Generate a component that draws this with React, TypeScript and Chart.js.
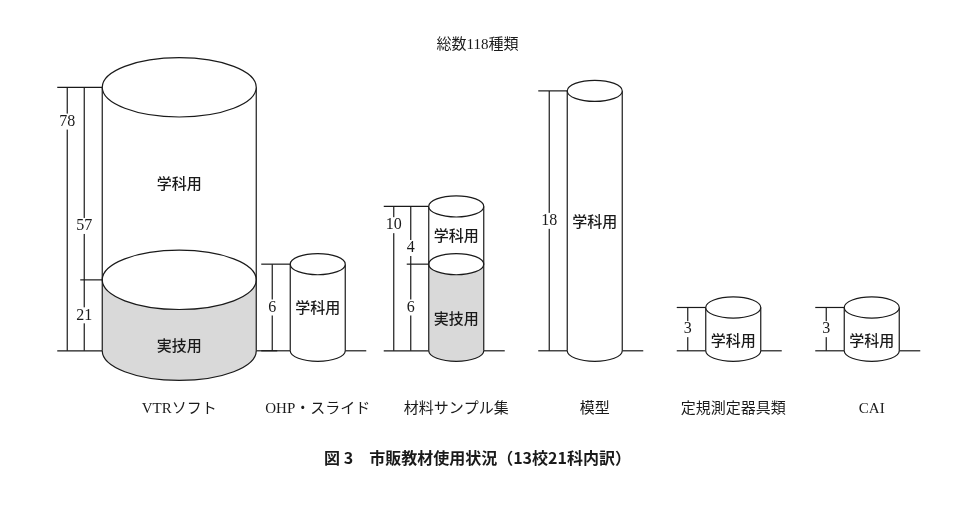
import { useEffect, useRef } from 'react';
import { Chart, registerables } from 'chart.js';

Chart.register(...registerables);

// ---- data ----
const categories = ['VTRソフト', 'OHP・スライド', '材料サンプル集', '模型', '定規測定器具類', 'CAI'];
const practicalCounts = [21, 0, 6, 0, 0, 0]; // 実技用
const academicCounts = [57, 6, 4, 18, 3, 3]; // 学科用
const seriesNames = ['実技用', '学科用'];
// the large item is drawn on its own (compressed) axis, as in the original figure
const compressedScaleCategories = ['VTRソフト'];
const topNote = '総数118種類';
const caption = '図 3　市販教材使用状況（13校21科内訳）';

// ---- styles ----
const INK = '#1a1a1a';
const SHADE = '#d9d9d9';
const SERIF = "'Liberation Serif', 'DejaVu Serif', 'Noto Sans CJK JP', serif";
const SANS_JP = "'Noto Sans CJK JP', 'Noto Sans', sans-serif";
const LARGE_WIDTH = 154;
const REGULAR_WIDTH = 55;
const MAIN_MAX = 20;
const COMPRESSED_MAX = 85.5;

const isLarge = (i: number) => compressedScaleCategories.includes(categories[i]);
const onLarge = (arr: number[]) => arr.map((v, i) => (isLarge(i) ? v : null));
const onMain = (arr: number[]) => arr.map((v, i) => (isLarge(i) ? null : v));

function line(ctx: CanvasRenderingContext2D, x1: number, y1: number, x2: number, y2: number) {
  ctx.beginPath();
  ctx.moveTo(x1, y1);
  ctx.lineTo(x2, y2);
  ctx.stroke();
}

function dimLabel(ctx: CanvasRenderingContext2D, text: string, x: number, y: number) {
  ctx.font = `16px ${SERIF}`;
  const w = ctx.measureText(text).width;
  ctx.fillStyle = '#fff';
  ctx.fillRect(x - w / 2 - 1, y - 8, w + 2, 16);
  ctx.fillStyle = INK;
  ctx.textAlign = 'center';
  ctx.textBaseline = 'middle';
  ctx.fillText(text, x, y);
}

function partLabel(ctx: CanvasRenderingContext2D, text: string, x: number, y: number) {
  ctx.font = `500 15px ${SANS_JP}`;
  ctx.fillStyle = INK;
  ctx.textAlign = 'center';
  ctx.textBaseline = 'middle';
  ctx.fillText(text, x, y);
}

const cylinderPlugin = {
  id: 'cylinders',
  afterDraw(chart: any) {
    const ctx: CanvasRenderingContext2D = chart.ctx;
    ctx.save();
    ctx.lineWidth = 1.2;
    ctx.strokeStyle = INK;
    categories.forEach((_, i) => {
      const large = isLarge(i);
      const pEl = chart.getDatasetMeta(large ? 0 : 2).data[i];
      const aEl = chart.getDatasetMeta(large ? 1 : 3).data[i];
      if (!pEl || !aEl) return;
      const cx = aEl.x;
      const rx = aEl.width / 2;
      const ry = rx * 0.385;
      const yb = pEl.base;
      const yMid = pEl.y;
      const yt = aEl.y;
      const left = cx - rx;
      const right = cx + rx;
      const hasP = practicalCounts[i] > 0;
      const total = practicalCounts[i] + academicCounts[i];

      // shaded lower part
      if (hasP) {
        ctx.beginPath();
        ctx.moveTo(left, yMid);
        ctx.lineTo(left, yb);
        ctx.ellipse(cx, yb, rx, ry, 0, Math.PI, 0, true);
        ctx.lineTo(right, yMid);
        ctx.ellipse(cx, yMid, rx, ry, 0, 0, Math.PI, false);
        ctx.closePath();
        ctx.fillStyle = SHADE;
        ctx.fill();
      }
      // sides
      line(ctx, left, yt, left, yb);
      line(ctx, right, yt, right, yb);
      // bottom front arc
      ctx.beginPath();
      ctx.ellipse(cx, yb, rx, ry, 0, 0, Math.PI, false);
      ctx.stroke();
      // middle ellipse
      if (hasP && academicCounts[i] > 0) {
        ctx.beginPath();
        ctx.ellipse(cx, yMid, rx, ry, 0, 0, Math.PI * 2);
        ctx.stroke();
      }
      // top ellipse
      ctx.beginPath();
      ctx.ellipse(cx, yt, rx, ry, 0, 0, Math.PI * 2);
      ctx.fillStyle = '#fff';
      ctx.fill();
      ctx.stroke();

      // base line right of cylinder
      line(ctx, right, yb, right + 21, yb);

      // dimension lines
      if (hasP) {
        const outerX = left - 35;
        const innerX = left - 18;
        const tickStart = left - 45;
        line(ctx, tickStart, yt, left, yt);
        line(ctx, innerX - 4, yMid, left, yMid);
        line(ctx, tickStart, yb, left, yb);
        line(ctx, outerX, yt, outerX, yb);
        line(ctx, innerX, yt, innerX, yb);
        dimLabel(ctx, String(total), outerX, yt + 0.13 * (yb - yt));
        dimLabel(ctx, String(academicCounts[i]), innerX, yt + 0.72 * (yMid - yt));
        dimLabel(ctx, String(practicalCounts[i]), innerX, (yMid + yb) / 2);
        partLabel(ctx, seriesNames[1], cx, (yt + yMid) / 2);
        partLabel(ctx, seriesNames[0], cx, (yMid + yb) / 2 + ry);
      } else {
        const lineX = left - 18;
        const tickStart = left - 29;
        line(ctx, tickStart, yt, left, yt);
        line(ctx, tickStart, yb, left, yb);
        line(ctx, lineX, yt, lineX, yb);
        dimLabel(ctx, String(total), lineX, (yt + yb) / 2);
        partLabel(ctx, seriesNames[1], cx, Math.max((yt + yb) / 2, yt + ry + 22));
      }
    });
    ctx.restore();
  },
};

const hiddenAxis = (position: 'left' | 'right', max: number, width: number) => ({
  type: 'linear' as const,
  position,
  min: 0,
  max,
  stacked: true,
  display: true,
  ticks: { display: false },
  grid: { display: false, drawTicks: false },
  border: { display: false },
  afterFit: (scale: any) => {
    scale.width = width;
  },
});

export default function App() {
  const ref = useRef<HTMLCanvasElement>(null);
  useEffect(() => {
    const transparent = 'rgba(0,0,0,0)';
    const chart = new Chart(ref.current!, {
      type: 'bar',
      data: {
        labels: categories,
        datasets: [
          { label: seriesNames[0], data: onLarge(practicalCounts), yAxisID: 'yv', barThickness: LARGE_WIDTH, backgroundColor: transparent, borderWidth: 0, grouped: false },
          { label: seriesNames[1], data: onLarge(academicCounts), yAxisID: 'yv', barThickness: LARGE_WIDTH, backgroundColor: transparent, borderWidth: 0, grouped: false },
          { label: seriesNames[0], data: onMain(practicalCounts), yAxisID: 'y', barThickness: REGULAR_WIDTH, backgroundColor: transparent, borderWidth: 0, grouped: false },
          { label: seriesNames[1], data: onMain(academicCounts), yAxisID: 'y', barThickness: REGULAR_WIDTH, backgroundColor: transparent, borderWidth: 0, grouped: false },
        ] as any,
      },
      options: {
        responsive: false,
        animation: false,
        devicePixelRatio: 1,
        layout: { padding: 0 },
        scales: {
          x: {
            stacked: true,
            grid: { display: false, drawTicks: false },
            border: { display: false },
            ticks: {
              padding: 49,
              maxRotation: 0,
              autoSkip: false,
              color: INK,
              font: { family: SERIF, size: 15 },
            },
            afterFit: (scale: any) => {
              scale.height = 67;
            },
          },
          y: hiddenAxis('left', MAIN_MAX, 110),
          yv: hiddenAxis('right', COMPRESSED_MAX, 14),
        } as any,
        plugins: {
          legend: { display: false },
          tooltip: { enabled: false },
          subtitle: {
            display: true,
            position: 'top',
            text: topNote,
            color: INK,
            font: { family: SERIF, size: 15, weight: 'normal' },
            padding: { top: 36, bottom: 8 },
          },
          title: {
            display: true,
            position: 'bottom',
            text: caption,
            color: INK,
            font: { family: SANS_JP, size: 16, weight: 'bold' },
            padding: { top: 31, bottom: 37 },
          },
        },
      },
      plugins: [cylinderPlugin],
    } as any);
    return () => chart.destroy();
  }, []);
  return (
    <div style={{ position: 'fixed', left: 0, top: 0, width: 955, height: 505, background: '#fff' }}>
      <canvas ref={ref} width={955} height={505} style={{ width: 955, height: 505, display: 'block' }} />
    </div>
  );
}
